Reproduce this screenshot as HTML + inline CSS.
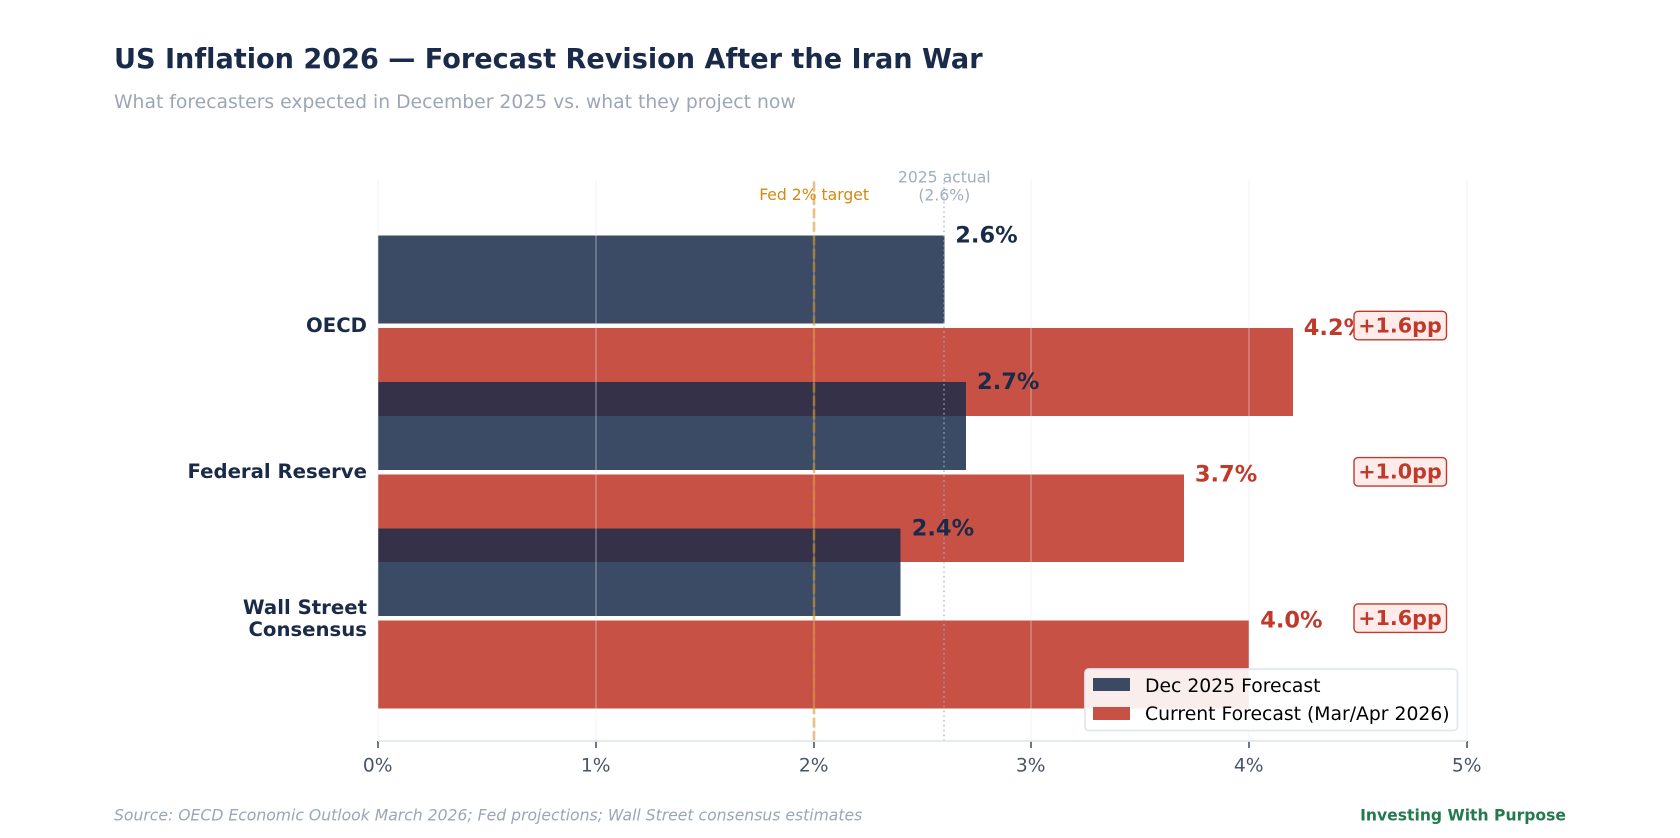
<!DOCTYPE html>
<html lang="en">
<head>
<meta charset="utf-8">
<title>US Inflation 2026 — Forecast Revision</title>
<style>
html,body{margin:0;padding:0;background:#fff;}
svg{display:block;font-family:"DejaVu Sans","Liberation Sans",sans-serif;font-variant-ligatures:none;}
</style>
</head>
<body>
<svg id="chart" xmlns="http://www.w3.org/2000/svg" width="1680" height="838" viewBox="0 0 1680 838">
  <rect x="0" y="0" width="1680" height="838" fill="#ffffff"/>
  <text x="114" y="68" font-size="27.12" font-weight="700" fill="#1a2b4a">US Inflation 2026 — Forecast Revision After the Iran War</text>
  <text x="114" y="108" font-size="18.78" fill="#9ca6b5">What forecasters expected in December 2025 vs. what they project now</text>
  <g id="bars"></g>
  <g id="grid"></g>
  <g id="refs"></g>
  <g id="axis"></g>
  <g id="cats"></g>
  <g id="vals"></g>
  <g id="badges"></g>
  <g>
    <rect x="1085" y="669" width="372.5" height="61.5" rx="4" fill="#ffffff" fill-opacity="0.9" stroke="#e2e8f0" stroke-width="1.8"/>
    <rect x="1093" y="678" width="37" height="13" fill="#1a2b4a" fill-opacity="0.85"/>
    <text x="1145" y="692" font-size="18.8" fill="#000000">Dec 2025 Forecast</text>
    <rect x="1093" y="707" width="37" height="13" fill="#c0392b" fill-opacity="0.88"/>
    <text x="1145" y="720" font-size="18.8" fill="#000000">Current Forecast (Mar/Apr 2026)</text>
  </g>
  <text x="114" y="820.5" font-size="15.63" font-style="italic" fill="#9ca6b5">Source: OECD Economic Outlook March 2026; Fed projections; Wall Street consensus estimates</text>
  <text x="1566" y="820.5" text-anchor="end" font-size="15.6" font-weight="700" fill="#237a4f">Investing With Purpose</text>
</svg>
<script>
const categories = [["OECD"], ["Federal Reserve"], ["Wall Street", "Consensus"]];
const decForecast = [2.6, 2.7, 2.4];
const currentForecast = [4.2, 3.7, 4.0];
const revisionLabels = ["+1.6pp", "+1.0pp", "+1.6pp"];
const xTicks = [0, 1, 2, 3, 4, 5];
const fedTarget = 2;
const actual2025 = 2.6;

const NS = "http://www.w3.org/2000/svg";
const xScale = v => 378 + v * 217.8;
const yScale = i => 325.8 + i * 146.3;
const AX_TOP = 180, AX_BOTTOM = 741;
const BAR_H = 87.8, BAR_OFF = 46.2;

function make(tag, parentId, attrs, text) {
  const el = document.createElementNS(NS, tag);
  for (const k in attrs) el.setAttribute(k, attrs[k]);
  if (text !== undefined) el.textContent = text;
  document.getElementById(parentId).appendChild(el);
  return el;
}

categories.forEach((cat, i) => {
  const cy = yScale(i);
  const navyTop = cy - BAR_OFF - BAR_H / 2;
  const redTop = cy + BAR_OFF - BAR_H / 2;

  const navy = make("rect", "bars", {x: xScale(0), y: navyTop, width: xScale(decForecast[i]) - xScale(0), height: BAR_H, fill: "#1a2b4a", "fill-opacity": 0.85, "shape-rendering": "crispEdges"});
  
  

  const red = make("rect", "bars", {x: xScale(0), y: redTop, width: xScale(currentForecast[i]) - xScale(0), height: BAR_H, fill: "#c0392b", "fill-opacity": 0.88, "shape-rendering": "crispEdges"});
  
  

  const v1 = make("text", "vals", {x: xScale(decForecast[i]) + 11, y: navyTop + 7, "font-size": 22.5, "font-weight": 700, fill: "#1a2b4a"}, decForecast[i].toFixed(1) + "%");
  
  

  const v2 = make("text", "vals", {x: xScale(currentForecast[i]) + 11, y: redTop + 7, "font-size": 22.5, "font-weight": 700, fill: "#c0392b"}, currentForecast[i].toFixed(1) + "%");
  
  

  const lines = cat;
  const firstBase = cy + 6 - (lines.length - 1) * 10.4;
  lines.forEach((ln, j) => {
    const t = make("text", "cats", {x: 367, y: firstBase + j * 22, "text-anchor": "end", "font-size": 19.7, "font-weight": 700, fill: "#1a2b4a"}, ln);
    
    
  });

  const box = make("rect", "badges", {x: 1354, y: cy - 14.5, width: 92.5, height: 28.5, rx: 4, fill: "#fdecea", stroke: "#c0392b", "stroke-width": 1.4});
  
  

  const bt = make("text", "badges", {x: 1400, y: cy + 6.5, "text-anchor": "middle", "font-size": 20.7, "font-weight": 700, fill: "#c0392b"}, revisionLabels[i]);
  
  
});

xTicks.forEach(t => {
  const x = Math.round(xScale(t));
  const g = make("line", "grid", {x1: x, x2: x, y1: AX_TOP, y2: AX_BOTTOM, stroke: "#e2e8f0", "stroke-width": 1.8, "stroke-opacity": 0.3});
  
  

  const tick = make("line", "axis", {x1: x, x2: x, y1: AX_BOTTOM, y2: AX_BOTTOM + 7, stroke: "#4a5568", "stroke-width": 1.6});
  
  

  const lab = make("text", "axis", {x: x - 0.3, y: 771.5, "text-anchor": "middle", "font-size": 18.7, fill: "#4a5568"}, t + "%");
  
  
});

const spine = make("line", "axis", {x1: xScale(0), x2: xScale(5), y1: AX_BOTTOM, y2: AX_BOTTOM, stroke: "#e2e8f0", "stroke-width": 1.8});



const fedX = Math.round(xScale(fedTarget));
const fedLine = make("line", "refs", {x1: fedX, x2: fedX, y1: AX_BOTTOM, y2: AX_TOP, stroke: "#d68910", "stroke-width": 2.7, "stroke-opacity": 0.5, "stroke-dasharray": "10 3.4"});



const actX = Math.round(xScale(actual2025));
const actualLine = make("line", "refs", {x1: actX, x2: actX, y1: AX_BOTTOM, y2: AX_TOP, stroke: "#a0aec0", "stroke-width": 1.8, "stroke-opacity": 0.6, "stroke-dasharray": "1.8 3"});



const fedLabel = make("text", "refs", {x: xScale(fedTarget) + 0.5, y: 200, "text-anchor": "middle", "font-size": 15.62, fill: "#d68910"}, "Fed " + fedTarget + "% target");



const actLabel1 = make("text", "refs", {x: xScale(actual2025), y: 182.5, "text-anchor": "middle", "font-size": 15.62, fill: "#a0aec0"}, "2025 actual");



const actLabel2 = make("text", "refs", {x: xScale(actual2025), y: 200.5, "text-anchor": "middle", "font-size": 15.62, fill: "#a0aec0"}, "(" + actual2025 + "%)");


</script>
</body>
</html>
